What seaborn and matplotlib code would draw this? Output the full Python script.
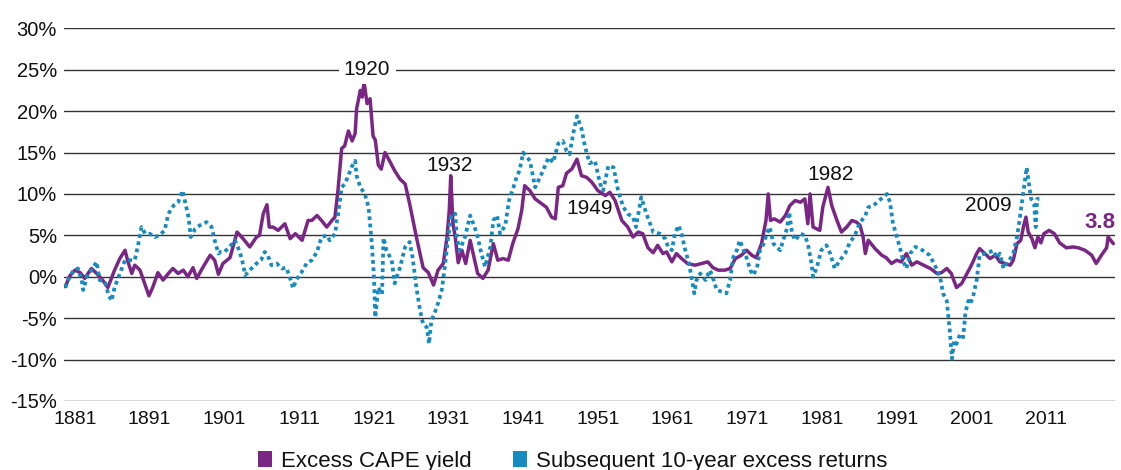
import pandas as pd
import matplotlib
matplotlib.use("Agg")
import matplotlib.pyplot as plt
from matplotlib.patches import Patch
import seaborn as sns

# values (year, percent)
cape_years = [
    1879.7, 1880.3, 1881.0, 1881.7, 1882.3, 1883.2, 1883.9, 1884.7, 1885.4, 1886.3,
    1887.0, 1887.7, 1888.1, 1888.6, 1889.0, 1889.7, 1890.4, 1890.9, 1891.4, 1892.1,
    1892.8, 1893.5, 1894.1, 1894.8, 1895.5, 1896.1, 1896.8, 1897.3, 1898.1, 1899.1,
    1899.7, 1900.2, 1900.8, 1901.75, 1902.7, 1903.5, 1904.4, 1905.3, 1905.7, 1906.2,
    1906.7, 1907.0, 1907.5, 1908.2, 1909.1, 1909.8, 1910.5, 1911.4, 1912.2, 1912.7,
    1913.4, 1914.0, 1914.7, 1915.4, 1915.8, 1916.2, 1916.7, 1917.1, 1917.6, 1918.1,
    1918.5, 1918.7, 1919.2, 1919.45, 1919.7, 1920.1, 1920.5, 1920.9, 1921.2, 1921.6,
    1922.0, 1922.5, 1923.1, 1923.8, 1924.5, 1925.2, 1925.8, 1926.7, 1927.6, 1928.3,
    1929.0, 1929.6, 1930.3, 1930.8, 1931.1, 1931.3, 1931.6, 1931.9, 1932.3, 1932.8,
    1933.3, 1933.9, 1934.3, 1934.9, 1935.6, 1936.3, 1937.0, 1937.6, 1938.3, 1939.0,
    1939.6, 1940.3, 1940.8, 1941.2, 1941.9, 1942.6, 1943.2, 1944.1, 1944.8, 1945.3,
    1945.7, 1946.3, 1946.8, 1947.5, 1948.2, 1948.8, 1949.5, 1950.2, 1951.0, 1952.0,
    1952.6, 1953.3, 1954.2, 1955.0, 1955.7, 1956.4, 1957.0, 1957.7, 1958.4, 1959.0,
    1959.7, 1960.2, 1960.9, 1961.5, 1962.2, 1963.0, 1964.0, 1964.9, 1965.7, 1966.4,
    1967.1, 1968.0, 1968.7, 1969.4, 1970.2, 1970.9, 1971.6, 1972.2, 1972.9, 1973.5,
    1973.8, 1974.1, 1974.6, 1975.4, 1976.1, 1976.7, 1977.4, 1978.1, 1978.7, 1979.1,
    1979.4, 1979.8, 1980.7, 1981.1, 1981.8, 1982.3, 1983.0, 1983.6, 1984.3, 1985.0,
    1985.6, 1986.1, 1986.5, 1986.8, 1987.2, 1988.1, 1989.0, 1989.6, 1990.3, 1991.0,
    1991.6, 1992.3, 1993.0, 1993.7, 1994.6, 1995.5, 1996.4, 1997.0, 1997.7, 1998.3,
    1999.0, 1999.7, 2000.4, 2001.0, 2001.7, 2002.1, 2002.8, 2003.5, 2004.2, 2004.8,
    2005.5, 2006.2, 2006.6, 2007.1, 2007.6, 2008.0, 2008.3, 2008.6, 2009.1, 2009.5,
    2009.9, 2010.3, 2010.7, 2011.4, 2012.1, 2012.8, 2013.7, 2014.6, 2015.3, 2016.2,
    2017.1, 2017.7, 2018.4, 2019.1, 2019.3, 2020.0,
]
cape_yield = [
    -1.2, 0.1, 0.8, 0.5, -0.2, 1.0, 0.4, -0.4, -1.3, 0.8,
    2.2, 3.2, 1.8, 0.4, 1.4, 0.8, -1.0, -2.3, -1.3, 0.5,
    -0.4, 0.4, 1.0, 0.4, 0.8, 0.0, 1.1, -0.2, 1.1, 2.6,
    2.0, 0.3, 1.6, 2.3, 5.4, 4.6, 3.6, 4.8, 5.0, 7.6,
    8.7, 6.0, 6.0, 5.6, 6.4, 4.6, 5.2, 4.4, 6.8, 6.8,
    7.4, 6.8, 6.0, 6.8, 7.2, 10.4, 15.5, 15.8, 17.6, 16.4,
    17.3, 20.3, 22.5, 21.7, 23.5, 20.9, 21.5, 17.0, 16.5, 13.5,
    13.0, 15.0, 14.0, 12.8, 11.8, 11.2, 8.8, 4.8, 1.1, 0.5,
    -1.0, 0.8, 1.6, 4.8, 8.0, 12.2, 6.4, 4.8, 1.7, 3.2,
    1.6, 4.4, 2.8, 0.4, -0.2, 0.8, 4.0, 2.0, 2.2, 2.0,
    4.0, 5.8, 8.0, 11.0, 10.4, 9.4, 9.0, 8.4, 7.2, 7.0,
    10.8, 11.0, 12.5, 13.0, 14.2, 12.2, 12.0, 11.4, 10.4, 9.8,
    10.2, 9.2, 6.8, 6.0, 4.8, 5.4, 5.2, 3.5, 2.9, 3.8,
    2.8, 3.0, 1.8, 2.8, 2.2, 1.6, 1.4, 1.6, 1.8, 1.1,
    0.8, 0.8, 1.0, 2.2, 2.6, 3.2, 2.6, 2.3, 4.0, 6.8,
    10.0, 6.8, 7.0, 6.6, 7.4, 8.6, 9.2, 9.0, 9.4, 6.4,
    10.0, 6.0, 5.6, 8.4, 10.8, 8.6, 6.8, 5.4, 6.0, 6.8,
    6.6, 6.2, 4.8, 2.8, 4.4, 3.4, 2.6, 2.3, 1.6, 2.0,
    1.8, 2.8, 1.4, 1.8, 1.4, 1.0, 0.4, 0.5, 1.0, 0.4,
    -1.3, -0.8, 0.4, 1.4, 2.8, 3.4, 2.8, 2.2, 2.6, 1.8,
    1.6, 1.4, 2.0, 4.0, 4.4, 6.2, 7.2, 5.4, 4.6, 3.5,
    4.8, 4.1, 5.2, 5.6, 5.2, 4.1, 3.5, 3.6, 3.5, 3.2,
    2.6, 1.6, 2.6, 3.5, 4.8, 4.0,
]

ret_years = [
    1879.7, 1880.1, 1880.8, 1881.4, 1881.9, 1882.1, 1882.6, 1883.2, 1883.9, 1884.3,
    1885.0, 1885.5, 1885.9, 1886.3, 1887.0, 1887.7, 1888.4, 1889.0, 1889.4, 1889.9,
    1890.4, 1891.0, 1891.7, 1892.3, 1893.0, 1893.5, 1894.2, 1894.8, 1895.4, 1895.7,
    1896.2, 1896.5, 1897.1, 1897.7, 1898.6, 1899.3, 1899.7, 1900.2, 1900.5, 1901.0,
    1901.7, 1902.4, 1902.8, 1903.3, 1903.8, 1904.4, 1905.3, 1905.9, 1906.4, 1906.8,
    1907.3, 1908.0, 1908.7, 1909.3, 1909.8, 1910.2, 1910.6, 1911.3, 1912.0, 1912.7,
    1913.4, 1914.0, 1914.7, 1915.1, 1915.8, 1916.2, 1916.7, 1917.1, 1917.6, 1918.0,
    1918.5, 1918.7, 1919.2, 1919.8, 1920.3, 1920.7, 1921.0, 1921.2, 1921.6, 1922.1,
    1922.3, 1922.7, 1923.4, 1923.8, 1924.5, 1925.2, 1925.8, 1926.2, 1926.7, 1927.2,
    1927.6, 1928.1, 1928.4, 1928.7, 1929.1, 1929.6, 1930.1, 1930.5, 1930.9, 1931.4,
    1931.9, 1932.1, 1932.5, 1933.2, 1933.9, 1934.5, 1934.9, 1935.4, 1935.9, 1936.6,
    1937.0, 1937.5, 1937.9, 1938.6, 1939.1, 1939.7, 1940.1, 1940.5, 1941.0, 1941.9,
    1942.6, 1943.5, 1944.4, 1945.0, 1945.7, 1946.3, 1946.8, 1947.2, 1947.7, 1948.2,
    1948.8, 1949.3, 1949.9, 1950.6, 1951.3, 1951.7, 1952.4, 1953.1, 1953.7, 1954.4,
    1955.0, 1955.7, 1956.1, 1956.8, 1957.5, 1958.4, 1959.3, 1960.0, 1960.4, 1960.9,
    1961.3, 1961.8, 1962.2, 1962.7, 1963.2, 1963.6, 1963.9, 1964.2, 1964.7, 1965.4,
    1966.0, 1966.5, 1966.9, 1967.6, 1968.2, 1968.7, 1969.1, 1969.6, 1970.0, 1970.5,
    1970.9, 1971.4, 1971.8, 1972.3, 1972.7, 1973.2, 1973.6, 1974.0, 1974.5, 1974.9,
    1975.4, 1975.8, 1976.3, 1976.6, 1977.0, 1977.4, 1978.1, 1978.7, 1979.1, 1979.6,
    1979.8, 1980.3, 1980.9, 1981.6, 1982.1, 1982.7, 1983.4, 1984.1, 1984.7, 1985.4,
    1986.0, 1986.8, 1987.2, 1987.9, 1988.6, 1989.2, 1989.7, 1990.1, 1990.5, 1990.9,
    1991.4, 1991.9, 1992.3, 1992.8, 1993.5, 1994.1, 1994.8, 1995.4, 1996.1, 1996.8,
    1997.2, 1997.7, 1998.1, 1998.4, 1998.7, 1999.0, 1999.5, 1999.9, 2000.2, 2000.6,
    2000.8, 2001.2, 2001.7, 2001.9, 2002.1, 2002.8, 2003.5, 2003.9, 2004.4, 2004.8,
    2005.3, 2005.7, 2006.2, 2006.6, 2007.1, 2007.4, 2007.8, 2008.1, 2008.4, 2008.7,
    2009.0, 2009.4, 2009.6, 2009.8, 2010.1,
]
ret_10y = [
    -1.3, -0.4, 0.8, 1.0, -0.4, -1.6, 0.0, 0.8, 1.8, -0.4,
    -0.6, -2.2, -2.9, -1.3, 0.4, 2.0, 2.0, 2.0, 3.6, 6.0,
    5.2, 5.2, 4.8, 5.0, 5.6, 7.6, 8.6, 9.0, 10.4, 9.2,
    7.2, 4.8, 5.8, 6.2, 6.6, 6.0, 4.4, 2.8, 3.0, 3.0,
    3.6, 4.4, 3.6, 2.3, 0.2, 0.8, 1.6, 2.0, 3.0, 2.6,
    1.4, 1.6, 1.0, 1.1, -0.2, -1.4, -0.4, 0.5, 1.6, 2.0,
    3.0, 4.8, 5.0, 4.4, 5.2, 7.4, 10.8, 11.2, 12.2, 13.2,
    14.0, 12.2, 10.8, 10.0, 8.4, 4.4, 0.4, -4.9, -1.3, -2.1,
    4.7, 3.2, 2.0, -0.8, 1.1, 3.6, 4.2, 2.3, -1.3, -4.1,
    -5.7, -6.1, -8.1, -5.3, -4.5, -3.2, -1.6, 1.1, 4.4, 7.6,
    7.6, 4.8, 3.2, 4.8, 7.4, 6.0, 4.8, 2.8, 1.2, 3.6,
    6.8, 7.4, 5.2, 6.2, 9.2, 10.8, 12.0, 12.8, 15.0, 14.0,
    10.8, 12.5, 14.4, 13.8, 16.1, 16.4, 15.2, 14.8, 17.3, 19.4,
    17.9, 15.6, 13.7, 14.0, 11.2, 10.4, 13.4, 13.2, 10.4, 8.4,
    7.6, 7.2, 6.0, 9.6, 7.6, 5.4, 5.2, 4.6, 3.6, 3.2,
    5.2, 6.2, 5.2, 3.2, 1.6, -0.4, -2.0, -0.4, 0.4, -0.4,
    0.8, -0.4, -1.6, -1.8, -2.0, -0.4, 2.3, 3.2, 4.4, 3.2,
    2.3, 0.8, 0.2, 1.1, 3.2, 4.0, 5.2, 6.0, 4.0, 3.6,
    3.2, 4.4, 5.8, 7.8, 5.2, 4.4, 5.2, 5.0, 4.0, 1.6,
    0.0, 1.1, 3.2, 3.8, 2.8, 1.0, 2.0, 2.8, 4.1, 5.0,
    6.4, 7.4, 8.4, 8.6, 9.2, 9.6, 10.0, 9.0, 6.4, 5.2,
    3.6, 1.8, 1.0, 2.8, 3.6, 3.4, 3.0, 2.6, 1.4, 0.0,
    -2.0, -2.9, -6.5, -9.9, -7.7, -8.1, -6.9, -7.3, -4.3, -2.9,
    -3.3, -2.5, -0.4, 1.1, 2.6, 2.8, 3.0, 3.2, 2.3, 2.8,
    1.0, 1.6, 2.2, 2.8, 4.8, 6.6, 9.2, 11.2, 13.2, 11.2,
    9.4, 8.8, 6.0, 9.4, 9.4,
]

tick_years = list(range(1881, 2021, 10))
y_ticks = list(range(-15, 35, 5))
y_labels = [f"{v}%" for v in y_ticks]

# callouts: (text, year, value)
callouts = [("1920", 1920.1, 25.0), ("1932", 1931.2, 13.4), ("1949", 1949.9, 8.3),
            ("1982", 1982.1, 12.4), ("2009", 2003.2, 8.6)]
last_label = ("3.8", 2018.2, 6.6)

PURPLE = "#7a2685"
BLUE = "#168bbf"

sns.set_style("white")
plt.rcParams["font.family"] = ["Liberation Sans", "DejaVu Sans"]

cape = pd.DataFrame({"year": cape_years, "value": cape_yield})
ret = pd.DataFrame({"year": ret_years, "value": ret_10y})

fig = plt.figure(figsize=(11.21, 4.70), dpi=100)
ax = fig.add_axes([64 / 1121, 1 - 401 / 470, (1115 - 64) / 1121, (401 - 28.3) / 470])

sns.lineplot(data=cape, x="year", y="value", ax=ax, color=PURPLE, lw=2.5,
             estimator=None, sort=False, zorder=3)
sns.lineplot(data=ret, x="year", y="value", ax=ax, color=BLUE, lw=2.7,
             estimator=None, sort=False, linestyle=(0, (1, 0.95)), zorder=4)

ax.set_xlim(1879.53, 2020.22)
ax.set_ylim(-15, 30)
ax.set_xticks(tick_years)
ax.set_xticklabels([str(y) for y in tick_years])
ax.set_yticks(y_ticks)
ax.set_yticklabels(y_labels)
ax.tick_params(axis="both", length=0, labelsize=14, colors="#111111")
ax.tick_params(axis="y", pad=5, labelsize=14.5)
ax.tick_params(axis="x", pad=7)
ax.set_xlabel("")
ax.set_ylabel("")
ax.grid(axis="y", color="#333333", lw=1.0)
ax.grid(axis="x", visible=False)
ax.set_axisbelow(True)
for s in ax.spines.values():
    s.set_visible(False)

for txt, x, y in callouts:
    kw = {}
    if txt == "1920":
        kw["bbox"] = dict(boxstyle="square,pad=0.25", fc="white", ec="none")
    ax.text(x, y, txt, fontsize=15, color="#111111", ha="center", va="center",
            zorder=5, **kw)
ax.text(last_label[1], last_label[2], last_label[0], fontsize=16, fontweight="bold",
        color=PURPLE, ha="center", va="center", zorder=5)

handles = [Patch(facecolor=PURPLE, edgecolor="none", label="Excess CAPE yield"),
           Patch(facecolor=BLUE, edgecolor="none", label="Subsequent 10-year excess returns")]
fig.legend(handles=handles, loc="center", bbox_to_anchor=(0.511, 0.019), ncol=2,
           frameon=False, fontsize=16, handlelength=0.63, handleheight=0.72,
           handletextpad=0.4, columnspacing=1.85, labelcolor="#111111")

fig.savefig("out.png", dpi=100)
